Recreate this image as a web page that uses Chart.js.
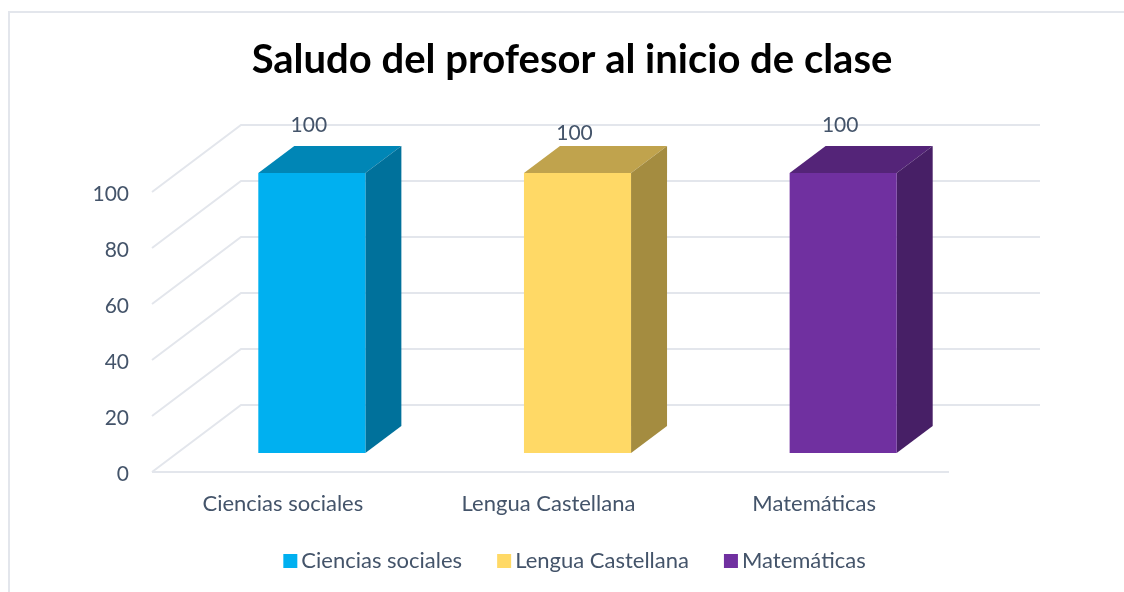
<!DOCTYPE html>
<html>
<head>
<meta charset="utf-8">
<title>Saludo del profesor al inicio de clase</title>
<script src="https://cdn.jsdelivr.net/npm/chart.js@4/dist/chart.umd.min.js"></script>
<style>
  body { margin: 0; background: #fff; overflow: hidden; }
  #frame { position: absolute; left: 8px; top: 11px; width: 1300px; height: 800px; border: 2px solid #E3E6EC; }
  #chart { position: absolute; left: 0; top: 0; }
</style>
</head>
<body>
<div id="frame"></div>
<canvas id="chart" width="1124" height="592"></canvas>
<script>
const categories = ['Ciencias sociales', 'Lengua Castellana', 'Matemáticas'];
const values = [100, 100, 100];
const frontColors = ['#00B0F0', '#FFD966', '#7030A0'];
const topColors = ['#0086B6', '#C0A34D', '#542478'];
const sideColors = ['#00719B', '#A48C40', '#471F66'];
const yTicks = [0, 20, 40, 60, 80, 100];

const textColor = '#44546A';
const gridColor = '#E3E6EC';
const fontFamily = 'Lato, Carlito, sans-serif';

// fake 3D: how far the back wall and the bars sit behind the front plane
const wallDepth = { x: 89, y: -67 };
const barShift = { x: 27, y: -19 };
const barDepth = { x: 36, y: -27 };
const labelLift = [21, 13, 21];

const box3d = {
  id: 'box3d',
  afterLayout(chart) {
    // legend padding is large for the item gaps, pull the row back up and across
    chart.legend.top -= 8;
    chart.legend.bottom -= 8;
    chart.legend.left += 6;
    chart.legend.right += 6;
  },
  beforeDatasetsDraw(chart) {
    const { ctx, scales: { x, y } } = chart;
    ctx.save();
    ctx.strokeStyle = gridColor;
    ctx.lineWidth = 2;
    // wall lines and the diagonals running back from the axis
    yTicks.forEach(v => {
      const py = y.getPixelForValue(v);
      ctx.beginPath();
      ctx.moveTo(x.left, py);
      ctx.lineTo(x.left + wallDepth.x, py + wallDepth.y);
      ctx.lineTo(x.right + wallDepth.x + 2, py + wallDepth.y);
      ctx.stroke();
    });
    // floor edge
    const py0 = y.getPixelForValue(0);
    ctx.beginPath();
    ctx.moveTo(x.left, py0);
    ctx.lineTo(x.right, py0);
    ctx.stroke();
    ctx.restore();

    // bars get moved back onto the floor, restored in afterDatasetsDraw
    ctx.save();
    ctx.translate(barShift.x, barShift.y);
    chart.getDatasetMeta(0).data.forEach((bar, i) => {
      const right = bar.x + bar.width / 2;
      const left = bar.x - bar.width / 2;
      ctx.fillStyle = topColors[i];
      ctx.beginPath();
      ctx.moveTo(left, bar.y);
      ctx.lineTo(left + barDepth.x, bar.y + barDepth.y);
      ctx.lineTo(right + barDepth.x, bar.y + barDepth.y);
      ctx.lineTo(right, bar.y);
      ctx.closePath();
      ctx.fill();
      ctx.fillStyle = sideColors[i];
      ctx.beginPath();
      ctx.moveTo(right, bar.y);
      ctx.lineTo(right + barDepth.x, bar.y + barDepth.y);
      ctx.lineTo(right + barDepth.x, bar.base + barDepth.y);
      ctx.lineTo(right, bar.base);
      ctx.closePath();
      ctx.fill();
    });
  },
  afterDatasetsDraw(chart) {
    const { ctx } = chart;
    ctx.restore();
    // value labels
    ctx.save();
    ctx.fillStyle = textColor;
    ctx.font = '21px ' + fontFamily;
    ctx.textAlign = 'center';
    ctx.textBaseline = 'middle';
    chart.getDatasetMeta(0).data.forEach((bar, i) => {
      ctx.fillText(String(values[i]), bar.x + barShift.x - 3, bar.y + barShift.y + barDepth.y - labelLift[i]);
    });
    ctx.restore();
  }
};

new Chart(document.getElementById('chart'), {
  type: 'bar',
  data: {
    labels: categories,
    datasets: [{
      data: values,
      backgroundColor: frontColors,
      borderWidth: 0,
      categoryPercentage: 1,
      barPercentage: 0.403
    }]
  },
  options: {
    responsive: false,
    animation: false,
    layout: { padding: { left: 20, right: 0, top: 22, bottom: 2 } },
    scales: {
      x: {
        grid: { display: false },
        border: { display: false },
        ticks: { color: textColor, font: { family: fontFamily, size: 22 }, padding: 11, labelOffset: -2, maxRotation: 0 },
        afterFit(scale) { scale.height = 44; }
      },
      y: {
        min: 0,
        max: 100,
        grid: { display: false },
        border: { display: false },
        afterBuildTicks(scale) { scale.ticks = yTicks.map(v => ({ value: v })); },
        ticks: { color: textColor, font: { family: fontFamily, size: 21 }, padding: 15, labelOffset: 2 },
        afterFit(scale) { scale.width = 132; }
      },
      // empty axis, only keeps the plot clear of the wall lines on the right
      spacer: {
        axis: 'y',
        position: 'right',
        grid: { display: false },
        border: { display: false },
        ticks: { display: false },
        afterFit(scale) { scale.width = 175; }
      }
    },
    plugins: {
      title: {
        display: true,
        text: 'Saludo del profesor al inicio de clase',
        color: '#000',
        font: { family: fontFamily, size: 40, weight: 'bold' },
        padding: { top: 14, bottom: 108 }
      },
      legend: {
        position: 'bottom',
        labels: {
          color: textColor,
          font: { family: fontFamily, size: 22 },
          usePointStyle: true,
          boxWidth: 0.01,
          boxHeight: 14,
          padding: 42,
          generateLabels() {
            return categories.map((c, i) => ({ text: c, fillStyle: frontColors[i], strokeStyle: frontColors[i], lineWidth: 0, pointStyle: 'rect', index: i, fontColor: textColor }));
          }
        }
      },
      tooltip: { enabled: false }
    }
  },
  plugins: [box3d]
});
</script>
</body>
</html>
